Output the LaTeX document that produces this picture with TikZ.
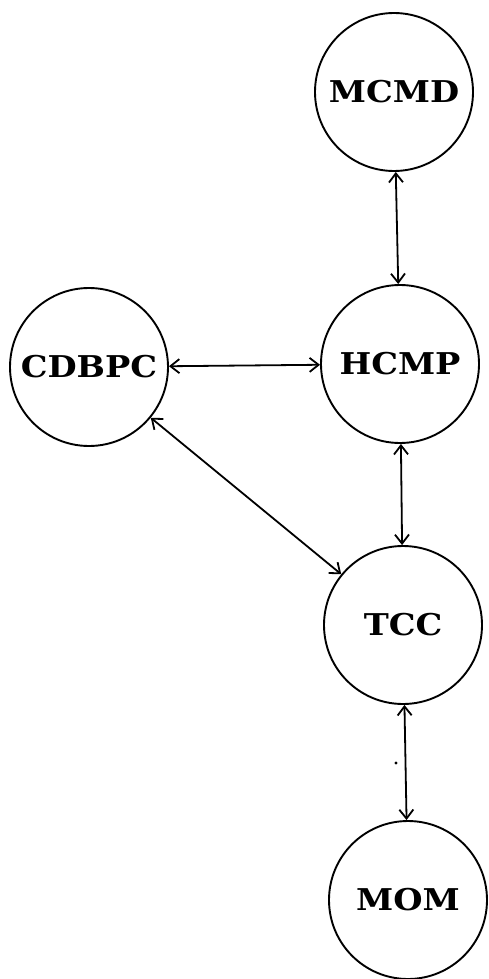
\documentclass[tikz,border=0pt]{standalone}
\usepackage{fontspec}
\usepackage{graphicx}
\newfontfamily\nodefont{DejaVu Serif}
\newcommand{\wide}[1]{\scalebox{1.12}[1]{#1}}
\usetikzlibrary{arrows.meta}
\begin{document}
\begin{tikzpicture}[x=1pt,y=-1pt,
  proc/.style={circle,draw,line width=1.9pt,minimum size=158pt,inner sep=0pt,
    font=\nodefont\fontsize{30}{32}\selectfont\bfseries},
  link/.style={line width=1.8pt,{Straight Barb[length=9pt,width=14pt,line width=1.8pt]}-{Straight Barb[length=9pt,width=14pt,line width=1.8pt]}}]
\useasboundingbox (0,0) rectangle (489,979);
\node[proc] (mcmd) at (394,92) {\wide{MCMD}};
\node[proc] (hcmp) at (400,364) {\wide{HCMP}};
\node[proc] (cdbpc) at (89,367) {\wide{CDBPC}};
\node[proc] (tcc) at (403,625) {\wide{TCC}};
\node[proc] (mom) at (408,900) {\wide{MOM}};
\draw[link] (mcmd) -- (hcmp);
\draw[link] (cdbpc) -- (hcmp);
\draw[link] (hcmp) -- (tcc);
\draw[link] (cdbpc) -- (tcc);
\draw[link] (tcc) -- (mom);
\fill (396,763) circle (1.6pt);
\end{tikzpicture}
\end{document}
